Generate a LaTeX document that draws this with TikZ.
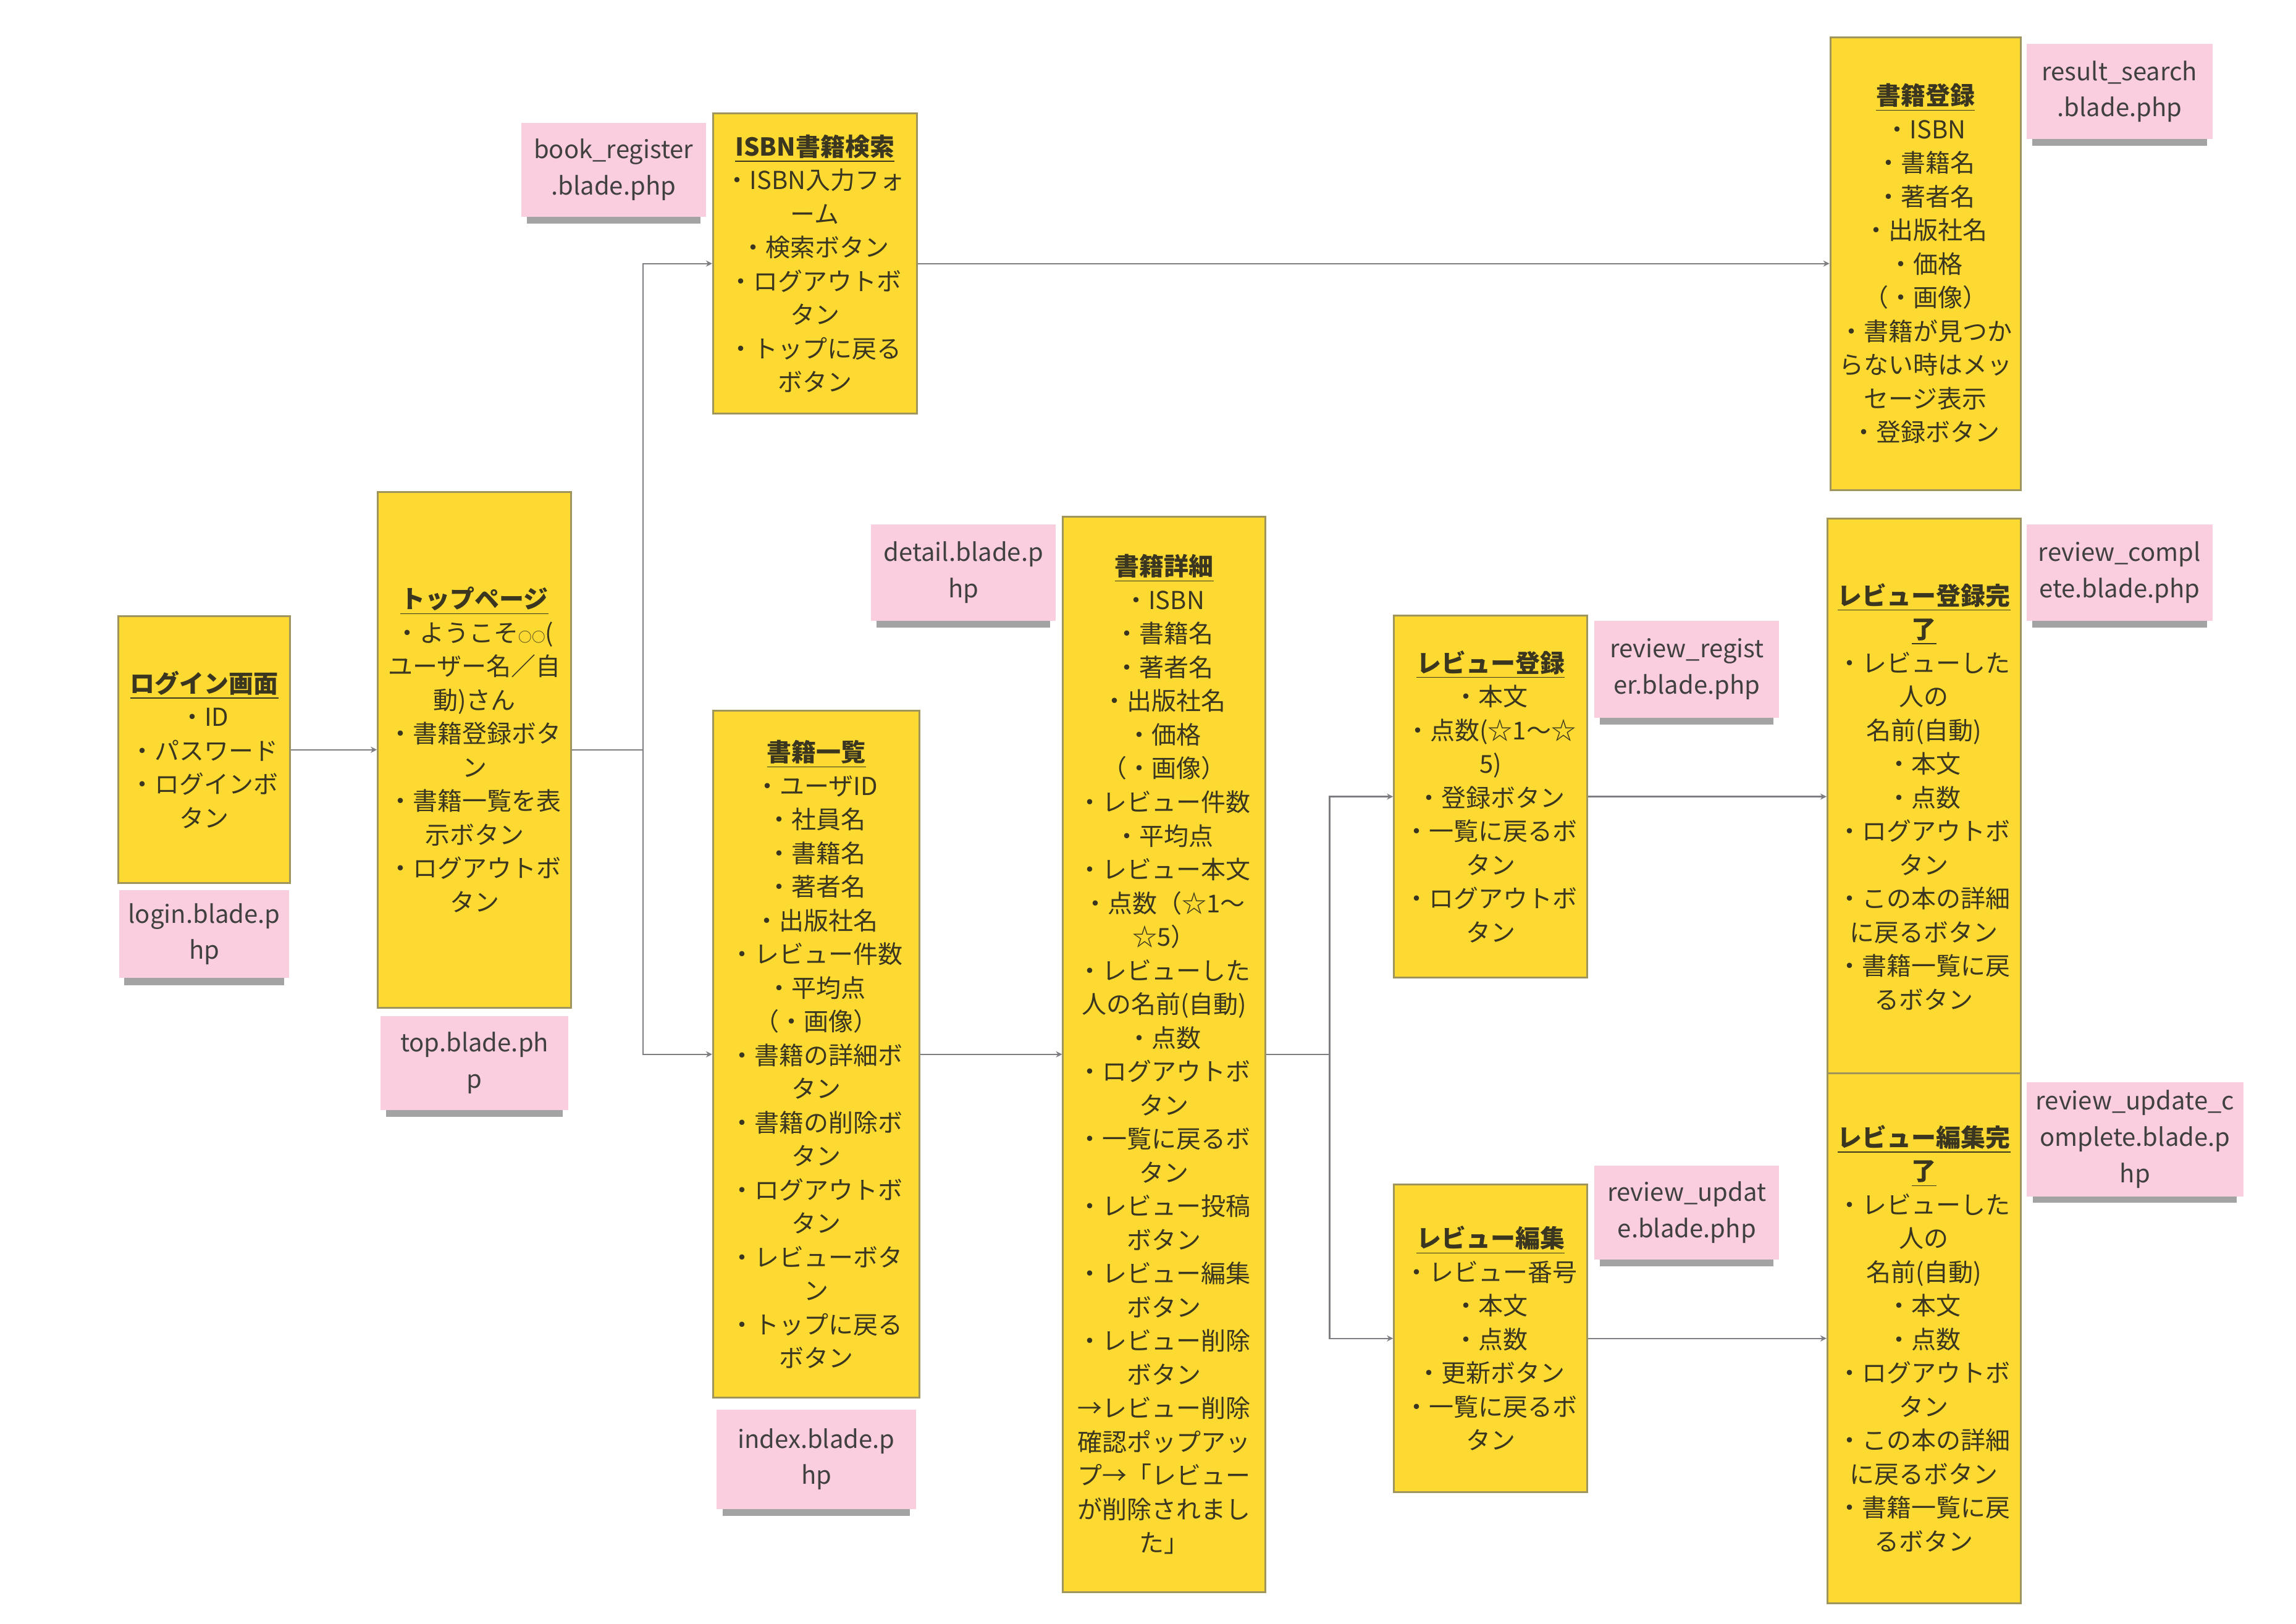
\documentclass[tikz,border=0pt]{standalone}
\usepackage{fontspec}
\setmainfont{Noto Sans CJK JP}
\usepackage{tikz}
\usetikzlibrary{positioning}
\usetikzlibrary{arrows.meta}
\usetikzlibrary{shadows}

\definecolor{stickyyellow}{RGB}{253,218,50}
\definecolor{stickyedge}{RGB}{158,148,92}
\definecolor{stickypink}{RGB}{250,206,222}
\definecolor{inktext}{RGB}{58,54,32}
\definecolor{linkgray}{RGB}{125,125,130}

\newcommand{\heading}[1]{\underline{\textbf{#1}}}
\newcommand{\blanks}{{\fontsize{6.5}{6.5}\selectfont ○○}}

\begin{document}
\begin{tikzpicture}[x=0.025cm, y=-0.025cm,
    screen/.style={draw=stickyedge, line width=0.9pt, fill=stickyyellow, text=inktext, align=center, inner sep=1pt, font=\fontsize{12}{16.35}\selectfont},
    file/.style={fill=stickypink, text=black!75, align=center, inner sep=1pt, font=\fontsize{12}{17.6}\selectfont, drop shadow={shadow xshift=0pt, shadow yshift=-5pt, shadow scale=0.94, opacity=0.45, fill=black!80}},
    link/.style={draw=linkgray, line width=0.7pt},
    arr/.style={link, -{Stealth[length=3pt, width=3pt]}}]

    \useasboundingbox (0,0) rectangle (1568,1109);

    \node[screen, minimum width=2.925cm, minimum height=4.55cm] (login) at (139.5,512) {\heading{ログイン画面}\\・ID\\・パスワード\\・ログインボ\\タン};
    \node[screen, minimum width=3.3cm, minimum height=8.8cm] (top) at (324,512) {\heading{トップページ}\\・ようこそ\blanks(\\ユーザー名／自\\動)さん\\・書籍登録ボタ\\ン\\・書籍一覧を表\\示ボタン\\・ログアウトボ\\タン};
    \node[screen, minimum width=3.475cm, minimum height=5.125cm] (isbn) at (556.5,180) {\heading{ISBN書籍検索}\\・ISBN入力フォ\\ーム\\・検索ボタン\\・ログアウトボ\\タン\\・トップに戻る\\ボタン};
    \node[screen, minimum width=3.25cm, minimum height=7.725cm] (reg) at (1315,180) {\heading{書籍登録}\\・ISBN\\・書籍名\\・著者名\\・出版社名\\・価格\\（・画像）\\・書籍が見つか\\らない時はメッ\\セージ表示\\・登録ボタン};
    \node[screen, minimum width=3.525cm, minimum height=11.725cm] (list) at (557.5,720) {\heading{書籍一覧}\\・ユーザID\\・社員名\\・書籍名\\・著者名\\・出版社名\\・レビュー件数\\・平均点\\（・画像）\\・書籍の詳細ボ\\タン\\・書籍の削除ボ\\タン\\・ログアウトボ\\タン\\・レビューボタ\\ン\\・トップに戻る\\ボタン};
    \node[screen, minimum width=3.45cm, minimum height=18.35cm] (detail) at (795,720) {\heading{書籍詳細}\\・ISBN\\・書籍名\\・著者名\\・出版社名\\・価格\\（・画像）\\・レビュー件数\\・平均点\\・レビュー本文\\・点数（☆1～\\☆5）\\・レビューした\\人の名前(自動)\\・点数\\・ログアウトボ\\タン\\・一覧に戻るボ\\タン\\・レビュー投稿\\ボタン\\・レビュー編集\\ボタン\\・レビュー削除\\ボタン\\→レビュー削除\\確認ポップアッ\\プ→「レビュー\\が削除されまし\\た」};
    \node[screen, minimum width=3.3cm, minimum height=6.175cm] (rvadd) at (1018,544) {\heading{レビュー登録}\\・本文\\・点数(☆1～☆\\5)\\・登録ボタン\\・一覧に戻るボ\\タン\\・ログアウトボ\\タン};
    \node[screen, minimum width=3.3cm, minimum height=5.25cm] (rvedit) at (1018,914) {\heading{レビュー編集}\\・レビュー番号\\・本文\\・点数\\・更新ボタン\\・一覧に戻るボ\\タン};
    \node[screen, minimum width=3.3cm, minimum height=9.5cm] (rvdone) at (1314,544) {\heading{レビュー登録完}\\\heading{了}\\・レビューした\\人の\\名前(自動)\\・本文\\・点数\\・ログアウトボ\\タン\\・この本の詳細\\に戻るボタン\\・書籍一覧に戻\\るボタン};
    \node[screen, minimum width=3.3cm, minimum height=9.05cm] (rveditdone) at (1314,914) {\heading{レビュー編集完}\\\heading{了}\\・レビューした\\人の\\名前(自動)\\・本文\\・点数\\・ログアウトボ\\タン\\・この本の詳細\\に戻るボタン\\・書籍一覧に戻\\るボタン};

    \node[file, minimum width=2.9cm, minimum height=1.5cm, below=0.1cm of login] (loginfile) {login.blade.p\\hp};
    \node[file, minimum width=3.2cm, minimum height=1.6cm, below=0.125cm of top] (topfile) {top.blade.ph\\p};
    \node[file, minimum width=3.15cm, minimum height=1.6cm] (isbnfile) at (419,116) {book\_register\\.blade.php};
    \node[file, minimum width=3.4cm, minimum height=1.7cm, below=0.175cm of list] (listfile) {index.blade.p\\hp};
    \node[file, minimum width=3.15cm, minimum height=1.65cm] (detailfile) at (658,391) {detail.blade.p\\hp};
    \node[file, minimum width=3.15cm, minimum height=1.65cm] (rvaddfile) at (1152,457) {review\_regist\\er.blade.php};
    \node[file, minimum width=3.15cm, minimum height=1.6cm] (rveditfile) at (1152,828) {review\_updat\\e.blade.php};
    \node[file, minimum width=3.175cm, minimum height=1.625cm] (regfile) at (1447.5,62.5) {result\_search\\.blade.php};
    \node[file, minimum width=3.175cm, minimum height=1.65cm] (rvdonefile) at (1447.5,391) {review\_compl\\ete.blade.php};
    \node[file, minimum width=3.7cm, minimum height=1.95cm] (rveditdonefile) at (1458,778) {review\_update\_c\\omplete.blade.p\\hp};

    \coordinate (fork1) at (439,512);
    \coordinate (fork2) at (908,720);

    \draw[arr] (login) -- (top);
    \draw[link] (top) -- (fork1);
    \draw[arr] (fork1) |- (isbn);
    \draw[arr] (fork1) |- (list);
    \draw[arr] (isbn) -- (reg);
    \draw[arr] (list) -- (detail);
    \draw[link] (detail) -- (fork2);
    \draw[arr] (fork2) |- (rvadd);
    \draw[arr] (fork2) |- (rvedit);
    \draw[arr] (rvadd) -- (rvdone);
    \draw[arr] (rvedit) -- (rveditdone);

\end{tikzpicture}
\end{document}
